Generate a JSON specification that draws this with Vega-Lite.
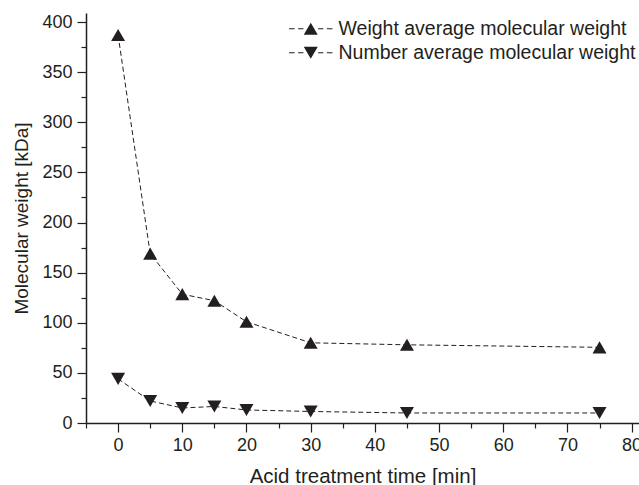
{
  "$schema": "https://vega.github.io/schema/vega-lite/v6.json",
  "autosize": "none",
  "width": 553,
  "height": 410,
  "padding": {"left": 86, "top": 13, "right": 0, "bottom": 62},
  "background": "white",
  "config": {
    "view": {"stroke": null},
    "font": "Liberation Sans",
    "axis": {
      "grid": false,
      "domainColor": "#231f20",
      "domainWidth": 1.5,
      "tickColor": "#231f20",
      "tickWidth": 1.2,
      "labelColor": "#231f20",
      "labelFont": "Liberation Sans",
      "labelFontSize": 18,
      "titleColor": "#231f20",
      "titleFont": "Liberation Sans",
      "titleFontWeight": "normal"
    }
  },
  "data": {
    "values": [
      {"t": 0, "mw": 387, "series": "Weight average molecular weight"},
      {"t": 5, "mw": 169, "series": "Weight average molecular weight"},
      {"t": 10, "mw": 128.5, "series": "Weight average molecular weight"},
      {"t": 15, "mw": 122, "series": "Weight average molecular weight"},
      {"t": 20, "mw": 101, "series": "Weight average molecular weight"},
      {"t": 30, "mw": 80, "series": "Weight average molecular weight"},
      {"t": 45, "mw": 78, "series": "Weight average molecular weight"},
      {"t": 75, "mw": 75.5, "series": "Weight average molecular weight"},
      {"t": 0, "mw": 44, "series": "Number average molecular weight"},
      {"t": 5, "mw": 22, "series": "Number average molecular weight"},
      {"t": 10, "mw": 15, "series": "Number average molecular weight"},
      {"t": 15, "mw": 16.5, "series": "Number average molecular weight"},
      {"t": 20, "mw": 13, "series": "Number average molecular weight"},
      {"t": 30, "mw": 11.5, "series": "Number average molecular weight"},
      {"t": 45, "mw": 10, "series": "Number average molecular weight"},
      {"t": 75, "mw": 10, "series": "Number average molecular weight"}
    ]
  },
  "encoding": {
    "x": {
      "field": "t",
      "type": "quantitative",
      "scale": {"domain": [-5, 81.15], "nice": false, "zero": false},
      "axis": {
        "title": "Acid treatment time [min]",
        "titleFontSize": 20.5,
        "titlePadding": 12,
        "values": [-5, 0, 5, 10, 15, 20, 25, 30, 35, 40, 45, 50, 55, 60, 65, 70, 75, 80],
        "labelExpr": "datum.value % 10 === 0 ? datum.label : ''",
        "tickSize": {"condition": {"test": "datum.value % 10 === 0", "value": 9}, "value": 5},
        "labelPadding": 4
      }
    },
    "y": {
      "field": "mw",
      "type": "quantitative",
      "scale": {"domain": [0, 409], "nice": false},
      "axis": {
        "title": "Molecular weight [kDa]",
        "titleFontSize": 19,
        "titlePadding": 10,
        "values": [0, 25, 50, 75, 100, 125, 150, 175, 200, 225, 250, 275, 300, 325, 350, 375, 400],
        "labelExpr": "datum.value % 50 === 0 ? datum.label : ''",
        "tickSize": {"condition": {"test": "datum.value % 50 === 0", "value": 9}, "value": 5},
        "labelPadding": 5
      }
    }
  },
  "layer": [
    {
      "mark": {"type": "line", "strokeDash": [5, 3], "strokeWidth": 1, "color": "#231f20"},
      "encoding": {
        "detail": {"field": "series", "type": "nominal"}
      }
    },
    {
      "transform": [{"filter": "datum.series === 'Weight average molecular weight'"}],
      "mark": {"type": "point", "filled": true, "size": 196, "opacity": 1, "color": "#231f20", "shape": "triangle-up"}
    },
    {
      "transform": [{"filter": "datum.series === 'Number average molecular weight'"}],
      "mark": {"type": "point", "filled": true, "size": 196, "opacity": 1, "color": "#231f20", "shape": "triangle-down"}
    },
    {
      "transform": [{"filter": "false"}],
      "mark": {"type": "point", "filled": true, "size": 196, "opacity": 1, "color": "#231f20"},
      "encoding": {
        "shape": {
          "field": "series",
          "type": "nominal",
          "scale": {
            "domain": ["Weight average molecular weight", "Number average molecular weight"],
            "range": [
              "M-3.1,-0.075L-2.3,-0.075L-2.3,0.075L-3.1,0.075ZM-1.8,-0.075L-1.05,-0.075L-1.05,0.075L-1.8,0.075ZM1.05,-0.075L1.8,-0.075L1.8,0.075L1.05,0.075ZM2.3,-0.075L3.1,-0.075L3.1,0.075L2.3,0.075ZM0,-0.866L1,0.866L-1,0.866Z",
              "M-3.1,-0.075L-2.3,-0.075L-2.3,0.075L-3.1,0.075ZM-1.8,-0.075L-1.05,-0.075L-1.05,0.075L-1.8,0.075ZM1.05,-0.075L1.8,-0.075L1.8,0.075L1.05,0.075ZM2.3,-0.075L3.1,-0.075L3.1,0.075L2.3,0.075ZM0,0.866L1,-0.866L-1,-0.866Z"
            ]
          },
          "legend": {
            "title": null,
            "orient": "none",
            "legendX": 215,
            "legendY": 6,
            "padding": 0,
            "symbolSize": 196,
            "symbolFillColor": "#231f20",
            "symbolOpacity": 1,
            "labelFontSize": 19.5,
            "labelFont": "Liberation Sans",
            "labelColor": "#231f20",
            "labelOffset": 18,
            "rowPadding": 3,
            "labelLimit": 400
          }
        }
      }
    }
  ]
}
